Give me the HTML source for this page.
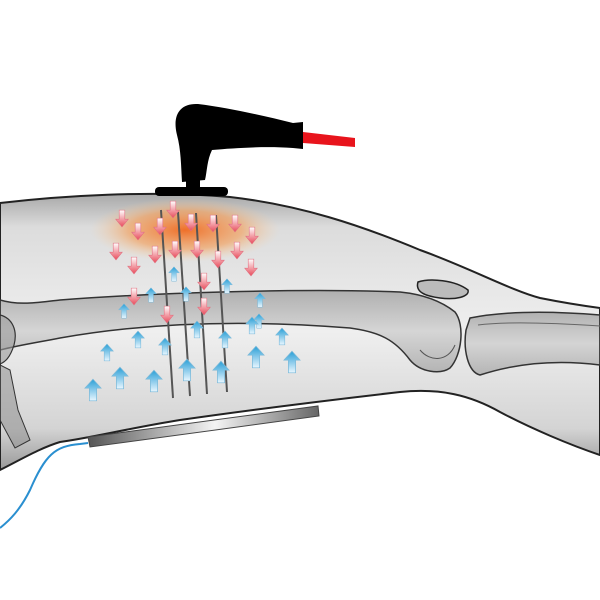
<!DOCTYPE html>
<html><head><style>html,body{margin:0;padding:0;background:#fff}svg{display:block}</style></head>
<body>
<svg width="600" height="600" viewBox="0 0 600 600" xmlns="http://www.w3.org/2000/svg">
<defs>
<linearGradient id="leg" x1="0" y1="0" x2="0" y2="1">
<stop offset="0" stop-color="#a8a8a8"/><stop offset="0.12" stop-color="#dcdcdc"/><stop offset="0.5" stop-color="#efefef"/><stop offset="0.85" stop-color="#d4d4d4"/><stop offset="1" stop-color="#999"/>
</linearGradient>
<linearGradient id="bone" x1="0" y1="0" x2="0" y2="1">
<stop offset="0" stop-color="#8a8a8a"/><stop offset="0.5" stop-color="#c4c4c4"/><stop offset="1" stop-color="#959595"/>
</linearGradient>
<linearGradient id="bar" x1="0" y1="0" x2="1" y2="0">
<stop offset="0" stop-color="#555"/><stop offset="0.55" stop-color="#f4f4f4"/><stop offset="1" stop-color="#666"/>
</linearGradient>
<radialGradient id="glow" cx="0.5" cy="0.5" r="0.5">
<stop offset="0" stop-color="#f06a20" stop-opacity="0.95"/><stop offset="0.6" stop-color="#f59a50" stop-opacity="0.6"/><stop offset="1" stop-color="#fbd0a0" stop-opacity="0"/>
</radialGradient>
<linearGradient id="up" x1="0" y1="0" x2="0" y2="1"><stop offset="0" stop-color="#2a9fd6"/><stop offset="1" stop-color="#e8f6ff"/></linearGradient>
<linearGradient id="dn" x1="0" y1="0" x2="0" y2="1"><stop offset="0" stop-color="#fff"/><stop offset="1" stop-color="#e84a5a"/></linearGradient>
<symbol id="ua" viewBox="0 0 20 26"><path d="M10 1 L19 11 L14 11 L14 25 L6 25 L6 11 L1 11 Z" fill="url(#up)" stroke="#7ab8d8" stroke-width="0.8"/></symbol>
<symbol id="da" viewBox="0 0 20 26"><path d="M6 1 L14 1 L14 14 L19 14 L10 25 L1 14 L6 14 Z" fill="url(#dn)" stroke="#e07080" stroke-width="0.8"/></symbol>
</defs>
<path d="M0 203 C60 196 150 190 230 197 C300 205 360 225 420 250 C470 268 510 290 540 298 C565 303 585 306 600 308 L600 455 C570 445 530 428 500 412 C470 395 440 388 400 392 C330 400 250 410 180 420 C130 428 90 438 60 442 C40 448 20 460 0 470 Z" fill="url(#leg)" stroke="#222" stroke-width="2"/>
<path d="M0 300 C20 306 40 302 60 300 C150 293 300 288 400 292 C420 294 440 300 455 312 C465 325 462 355 450 368 C440 375 420 372 410 360 C395 340 380 332 350 328 C250 320 150 322 60 338 C40 342 20 345 0 350 Z" fill="url(#bone)" fill-opacity="0.6" stroke="#333" stroke-width="1.5"/>
<path d="M420 350 C430 362 448 362 455 345" fill="none" stroke="#555" stroke-width="1"/>
<path d="M418 282 C430 278 455 280 468 290 C470 297 455 300 440 298 C425 296 415 292 418 282 Z" fill="#bbb" stroke="#222" stroke-width="1.5"/>
<path d="M470 318 C500 312 540 310 600 315 L600 365 C560 360 520 362 480 375 C468 372 463 350 466 330 Z" fill="url(#bone)" fill-opacity="0.6" stroke="#333" stroke-width="1.5"/>
<path d="M478 325 C500 322 540 322 600 326" fill="none" stroke="#666" stroke-width="1"/>
<path d="M0 315 C12 318 18 330 14 345 C10 358 5 362 0 364 Z" fill="#999" fill-opacity="0.6" stroke="#333" stroke-width="1.2"/>
<path d="M0 365 L10 370 L18 410 L30 440 L15 448 L0 420 Z" fill="#888" fill-opacity="0.5" stroke="#333" stroke-width="1"/>
<ellipse cx="185" cy="230" rx="95" ry="32" fill="url(#glow)"/>
<g stroke="#555" stroke-width="2">
<line x1="161" y1="210" x2="173" y2="398"/><line x1="178" y1="212" x2="190" y2="396"/><line x1="196" y1="213" x2="207" y2="394"/><line x1="216" y1="215" x2="227" y2="392"/>
</g>
<g>
<use href="#da" x="115" y="209" width="14" height="19"/><use href="#da" x="131" y="222" width="14" height="19"/><use href="#da" x="153" y="217" width="14" height="19"/><use href="#da" x="166" y="200" width="14" height="19"/><use href="#da" x="184" y="213" width="14" height="19"/><use href="#da" x="206" y="214" width="14" height="19"/><use href="#da" x="228" y="214" width="14" height="19"/><use href="#da" x="245" y="226" width="14" height="19"/>
<use href="#da" x="109" y="242" width="14" height="19"/><use href="#da" x="127" y="256" width="14" height="19"/><use href="#da" x="148" y="245" width="14" height="19"/><use href="#da" x="168" y="240" width="14" height="19"/><use href="#da" x="190" y="240" width="14" height="19"/><use href="#da" x="211" y="250" width="14" height="19"/><use href="#da" x="230" y="241" width="14" height="19"/><use href="#da" x="244" y="258" width="14" height="19"/>
<use href="#da" x="197" y="272" width="14" height="19"/><use href="#da" x="127" y="287" width="14" height="19"/><use href="#da" x="197" y="297" width="14" height="19"/><use href="#da" x="160" y="305" width="14" height="19"/>
</g>
<g>
<use href="#ua" x="168" y="266" width="12" height="16"/><use href="#ua" x="221" y="278" width="12" height="16"/><use href="#ua" x="145" y="287" width="12" height="16"/><use href="#ua" x="180" y="286" width="12" height="16"/><use href="#ua" x="254" y="292" width="12" height="16"/><use href="#ua" x="253" y="313" width="12" height="16"/><use href="#ua" x="118" y="303" width="12" height="16"/>
<use href="#ua" x="245" y="316" width="14" height="19"/><use href="#ua" x="131" y="330" width="14" height="19"/><use href="#ua" x="190" y="320" width="14" height="19"/><use href="#ua" x="218" y="330" width="14" height="19"/><use href="#ua" x="275" y="327" width="14" height="19"/><use href="#ua" x="158" y="337" width="14" height="19"/><use href="#ua" x="100" y="343" width="14" height="19"/>
<use href="#ua" x="247" y="345" width="18" height="24"/><use href="#ua" x="283" y="350" width="18" height="24"/><use href="#ua" x="111" y="366" width="18" height="24"/><use href="#ua" x="145" y="369" width="18" height="24"/><use href="#ua" x="84" y="378" width="18" height="24"/><use href="#ua" x="178" y="358" width="18" height="24"/><use href="#ua" x="212" y="360" width="18" height="24"/>
</g>
<path d="M88 437 L318 406 L319 416 L90 447 Z" fill="url(#bar)" stroke="#444" stroke-width="1"/>
<path d="M88 443 L80 444 C55 446 45 455 30 490 C20 510 10 520 0 528" fill="none" stroke="#2a8fd0" stroke-width="2"/>
<path d="M177 135 C172 115 180 103 198 104 C230 108 265 116 293 123 L303 122 L303 149 L293 148 C265 146 235 148 212 150 C207 160 207 172 205 180 L182 182 C181 165 181 150 177 135 Z" fill="#000"/>
<rect x="186" y="178" width="14" height="12" fill="#000"/>
<rect x="155" y="187" width="73" height="9" rx="4" fill="#000"/>
<path d="M303 132 L355 138 L355 147 L303 143 Z" fill="#e8141c"/>
</svg>
</body></html>
